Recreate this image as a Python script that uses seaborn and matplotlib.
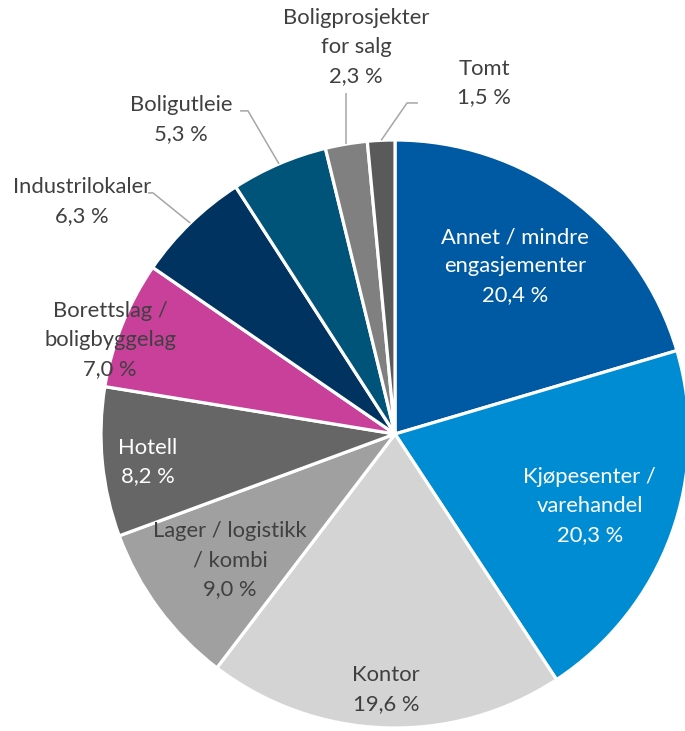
import numpy as np
import matplotlib
matplotlib.use("Agg")
import matplotlib.pyplot as plt
import seaborn as sns

# Portfolio split by segment (percent)
categories = [
    "Annet / mindre\nengasjementer",
    "Kjøpesenter /\nvarehandel",
    "Kontor",
    "Lager / logistikk\n/ kombi",
    "Hotell",
    "Borettslag /\nboligbyggelag",
    "Industrilokaler",
    "Boligutleie",
    "Boligprosjekter\nfor salg",
    "Tomt",
]
shares = [20.4, 20.3, 19.6, 9.0, 8.2, 7.0, 6.3, 5.3, 2.3, 1.5]
value_labels = ["20,4 %", "20,3 %", "19,6 %", "9,0 %", "8,2 %",
                "7,0 %", "6,3 %", "5,3 %", "2,3 %", "1,5 %"]

colors = ["#005AA3", "#008CD3", "#D4D4D4", "#A0A0A0", "#666666",
          "#C8409A", "#00335F", "#005479", "#808080", "#5A5A5A"]
text_colors = ["white", "white", "#404040", "#404040", "white",
               "#404040", "#404040", "#404040", "#404040", "#404040"]

# Label placement in units of the pie radius (centre at 0,0)
label_pos = [(0.408, 0.571), (0.663, -0.245), (-0.031, -0.870),
             (-0.561, -0.429), (-0.840, -0.095), (-0.969, 0.320),
             (-1.065, 0.790), (-0.728, 1.070), (-0.133, 1.316),
             (0.303, 1.194)]
# Leader lines for the outside labels: index -> list of bend points
leaders = {
    6: [(-0.823, 0.820), (-0.840, 0.820)],
    7: [(-0.500, 1.099), (-0.527, 1.099)],
    8: [(None, 1.160)],
    9: [(0.041, 1.126), (0.078, 1.126)],
}

sns.set_theme(style="white")
plt.rcParams["font.family"] = ["Lato", "DejaVu Sans"]

fig = plt.figure(figsize=(6.85, 7.31), dpi=100)
ax = fig.add_axes([0, 0, 1, 1])

wedges, _ = ax.pie(
    shares, colors=colors, startangle=90, counterclock=False,
    radius=1.0, center=(0, 0),
    wedgeprops=dict(edgecolor="white", linewidth=2.3),
)

for i, (w, cat, val) in enumerate(zip(wedges, categories, value_labels)):
    x, y = label_pos[i]
    ax.text(x, y, f"{cat}\n{val}", ha="center", va="center",
            fontsize=15.8, color=text_colors[i], linespacing=1.55)
    if i in leaders:
        mid = np.deg2rad((w.theta1 + w.theta2) / 2)
        px, py = [np.cos(mid)], [np.sin(mid)]
        for bx, by in leaders[i]:
            px.append(px[0] if bx is None else bx)
            py.append(by)
        ax.plot(px, py, color="#A6A6A6", lw=1.1, solid_capstyle="butt")

ax.set_xlim(-395 / 294, 290 / 294)
ax.set_ylim(-297 / 294, 434 / 294)
ax.set_aspect("equal")
ax.axis("off")

fig.savefig("out.png", dpi=100)
